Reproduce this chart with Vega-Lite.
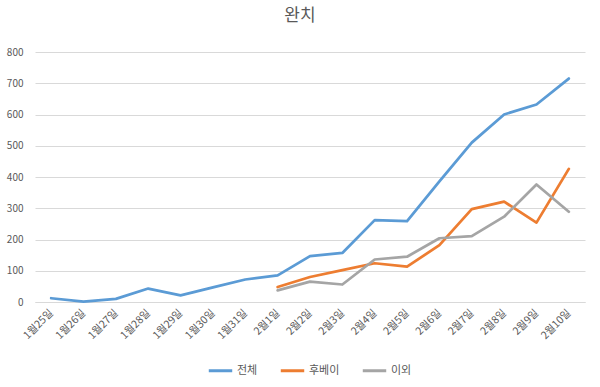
{
  "$schema": "https://vega.github.io/schema/vega-lite/v6.json",
  "width": 550,
  "height": 250,
  "autosize": {"type": "none"},
  "padding": {"left": 35, "top": 52, "right": 15, "bottom": 85},
  "background": "white",
  "title": {
    "text": "완치",
    "font": "Noto Sans CJK KR",
    "fontSize": 17,
    "fontWeight": "normal",
    "color": "#595959",
    "offset": 22,
    "dx": -10
  },
  "config": {
    "view": {"stroke": null},
    "font": "Noto Sans CJK KR"
  },
  "data": {
    "values": [
      {"date": "1월25일", "series": "전체", "value": 12},
      {"date": "1월26일", "series": "전체", "value": 1},
      {"date": "1월27일", "series": "전체", "value": 10},
      {"date": "1월28일", "series": "전체", "value": 43},
      {"date": "1월29일", "series": "전체", "value": 21},
      {"date": "1월30일", "series": "전체", "value": 47},
      {"date": "1월31일", "series": "전체", "value": 72},
      {"date": "2월1일", "series": "전체", "value": 85},
      {"date": "2월2일", "series": "전체", "value": 147},
      {"date": "2월3일", "series": "전체", "value": 157},
      {"date": "2월4일", "series": "전체", "value": 262},
      {"date": "2월5일", "series": "전체", "value": 259},
      {"date": "2월6일", "series": "전체", "value": 386},
      {"date": "2월7일", "series": "전체", "value": 510},
      {"date": "2월8일", "series": "전체", "value": 600},
      {"date": "2월9일", "series": "전체", "value": 632},
      {"date": "2월10일", "series": "전체", "value": 715},
      {"date": "2월1일", "series": "후베이", "value": 48},
      {"date": "2월2일", "series": "후베이", "value": 80},
      {"date": "2월3일", "series": "후베이", "value": 102},
      {"date": "2월4일", "series": "후베이", "value": 124},
      {"date": "2월5일", "series": "후베이", "value": 113},
      {"date": "2월6일", "series": "후베이", "value": 182},
      {"date": "2월7일", "series": "후베이", "value": 297},
      {"date": "2월8일", "series": "후베이", "value": 321},
      {"date": "2월9일", "series": "후베이", "value": 254},
      {"date": "2월10일", "series": "후베이", "value": 426},
      {"date": "2월1일", "series": "이외", "value": 37},
      {"date": "2월2일", "series": "이외", "value": 65},
      {"date": "2월3일", "series": "이외", "value": 56},
      {"date": "2월4일", "series": "이외", "value": 136},
      {"date": "2월5일", "series": "이외", "value": 145},
      {"date": "2월6일", "series": "이외", "value": 204},
      {"date": "2월7일", "series": "이외", "value": 211},
      {"date": "2월8일", "series": "이외", "value": 273},
      {"date": "2월9일", "series": "이외", "value": 376},
      {"date": "2월10일", "series": "이외", "value": 289}
    ]
  },
  "mark": {"type": "line", "strokeWidth": 2.75, "strokeJoin": "round", "strokeCap": "round"},
  "encoding": {
    "x": {
      "field": "date",
      "type": "ordinal",
      "sort": ["1월25일","1월26일","1월27일","1월28일","1월29일","1월30일","1월31일","2월1일","2월2일","2월3일","2월4일","2월5일","2월6일","2월7일","2월8일","2월9일","2월10일"],
      "scale": {"type": "point", "padding": 0.5},
      "axis": {
        "title": null,
        "labelAngle": -45,
        "labelAlign": "right",
        "labelBaseline": "middle",
        "labelFontSize": 10.5,
        "labelColor": "#595959",
        "labelPadding": 9,
        "ticks": false,
        "domain": true,
        "domainColor": "#d9d9d9",
        "grid": false
      }
    },
    "y": {
      "field": "value",
      "type": "quantitative",
      "scale": {"domain": [0, 800], "nice": false},
      "axis": {
        "title": null,
        "values": [0, 100, 200, 300, 400, 500, 600, 700, 800],
        "labelFontSize": 10,
        "labelColor": "#595959",
        "labelPadding": 12,
        "ticks": false,
        "domain": false,
        "grid": true,
        "gridColor": "#d9d9d9"
      }
    },
    "color": {
      "field": "series",
      "type": "nominal",
      "scale": {"domain": ["전체", "후베이", "이외"], "range": ["#5B9BD5", "#ED7D31", "#A5A5A5"]},
      "legend": {
        "title": null,
        "orient": "none",
        "direction": "horizontal",
        "legendX": 172,
        "legendY": 305,
        "symbolType": "stroke",
        "symbolSize": 550,
        "symbolStrokeWidth": 3,
        "labelFontSize": 11,
        "labelColor": "#595959",
        "columnPadding": 16,
        "labelOffset": 3
      }
    }
  }
}
